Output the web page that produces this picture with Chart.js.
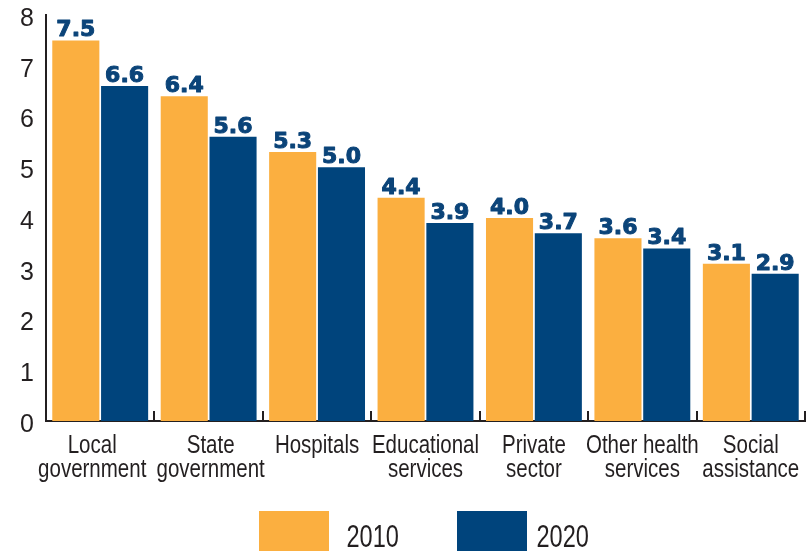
<!DOCTYPE html>
<html><head><meta charset="utf-8">
<script src="https://cdn.jsdelivr.net/npm/chart.js@4"></script>
<style>html,body{margin:0;padding:0;background:#fff;}#wrap{width:810px;height:551px;}</style>
</head><body><div id="wrap"><canvas id="c" width="810" height="551"></canvas></div>
<script>
const categories = [["Local","government"],["State","government"],"Hospitals",["Educational","services"],["Private","sector"],["Other health","services"],["Social","assistance"]];
const seriesNames = ["2010","2020"];
const values2010 = [7.5,6.4,5.3,4.4,4.0,3.6,3.1];
const values2020 = [6.6,5.6,5.0,3.9,3.7,3.4,2.9];
const yTicks = [0,1,2,3,4,5,6,7,8];
const colors = ["#FBAF40","#00447C"];

const AXIS = "#231f20";
const LABEL_FONT = "'Liberation Sans', Arial, sans-serif";
const LABEL_NUDGE = [-8, 2, 0, 0, 0, 0, 0];

function drawCondensed(ctx, text, x, y, sx) {
  ctx.save(); ctx.translate(x, y); ctx.scale(sx, 1); ctx.fillText(text, 0, 0); ctx.restore();
}

const boundaryTicks = {
  id: 'boundaryTicks',
  afterDraw(chart) {
    const x = chart.scales.x, ca = chart.chartArea, ctx = chart.ctx;
    ctx.save();
    ctx.strokeStyle = AXIS; ctx.lineWidth = 2;
    for (let i = 0; i <= categories.length; i++) {
      const px = Math.round(x.getPixelForValue(i - 0.5));
      ctx.beginPath(); ctx.moveTo(px, ca.bottom); ctx.lineTo(px, ca.bottom - 10); ctx.stroke();
    }
    ctx.restore();
  }
};

const categoryLabels = {
  id: 'categoryLabels',
  afterDraw(chart) {
    const x = chart.scales.x, ca = chart.chartArea, ctx = chart.ctx;
    ctx.save();
    ctx.font = "25px " + LABEL_FONT;
    ctx.fillStyle = AXIS; ctx.textAlign = 'center'; ctx.textBaseline = 'alphabetic';
    categories.forEach((c, i) => {
      const lines = Array.isArray(c) ? c : [c];
      const px = x.getPixelForValue(i) + LABEL_NUDGE[i];
      lines.forEach((ln, j) => drawCondensed(ctx, ln, px, ca.bottom + 32 + j * 24, 0.82));
    });
    ctx.restore();
  }
};

const valueLabels = {
  id: 'valueLabels',
  afterDatasetsDraw(chart) {
    const ctx = chart.ctx;
    ctx.save();
    ctx.font = "bold 22px 'DejaVu Sans', sans-serif";
    ctx.fillStyle = "#0b4479"; ctx.strokeStyle = "#0b4479"; ctx.lineWidth = 1;
    ctx.lineJoin = 'round';
    ctx.textAlign = 'center'; ctx.textBaseline = 'alphabetic';
    chart.data.datasets.forEach((ds, di) => {
      chart.getDatasetMeta(di).data.forEach((el, i) => {
        const t = ds.data[i].toFixed(1);
        ctx.fillText(t, el.x, el.y - 4);
        ctx.strokeText(t, el.x, el.y - 4);
      });
    });
    ctx.restore();
  }
};

const customLegend = {
  id: 'customLegend',
  afterDraw(chart) {
    const ctx = chart.ctx, ca = chart.chartArea;
    const cx = (ca.left + ca.right) / 2;
    const items = [
      {box: cx - 166.5, text: cx - 79},
      {box: cx + 31.5, text: cx + 111}
    ];
    ctx.save();
    ctx.font = "31px " + LABEL_FONT;
    ctx.textAlign = 'left'; ctx.textBaseline = 'alphabetic';
    items.forEach((it, i) => {
      ctx.fillStyle = colors[i];
      ctx.fillRect(it.box, 511, 70, 40);
      ctx.fillStyle = AXIS;
      drawCondensed(ctx, seriesNames[i], it.text, 547, 0.76);
    });
    ctx.restore();
  }
};

new Chart(document.getElementById('c'), {
  type: 'bar',
  data: {
    labels: categories,
    datasets: [
      {label: seriesNames[0], data: values2010, backgroundColor: colors[0]},
      {label: seriesNames[1], data: values2020, backgroundColor: colors[1]}
    ]
  },
  options: {
    responsive: false,
    devicePixelRatio: 1,
    animation: false,
    categoryPercentage: 0.9,
    barPercentage: 0.965,
    layout: {padding: {top: 15, right: 5, left: 0, bottom: 0}},
    plugins: {legend: {display: false}, tooltip: {enabled: false}},
    scales: {
      x: {
        grid: {display: false, drawTicks: false},
        border: {display: true, color: AXIS, width: 2},
        ticks: {display: false},
        afterFit(s) { s.height = 130; s.paddingLeft = 0; s.paddingRight = 0; }
      },
      y: {
        min: 0, max: 8,
        grid: {display: false, drawTicks: false},
        border: {display: true, color: AXIS, width: 2},
        ticks: {color: AXIS, font: {family: LABEL_FONT, size: 25}, padding: 12, labelOffset: 4},
        afterBuildTicks(s) { s.ticks = yTicks.map(v => ({value: v})); },
        afterFit(s) { s.width = 46; s.paddingTop = 0; s.paddingBottom = 0; }
      }
    }
  },
  plugins: [boundaryTicks, categoryLabels, valueLabels, customLegend]
});
</script></body></html>
